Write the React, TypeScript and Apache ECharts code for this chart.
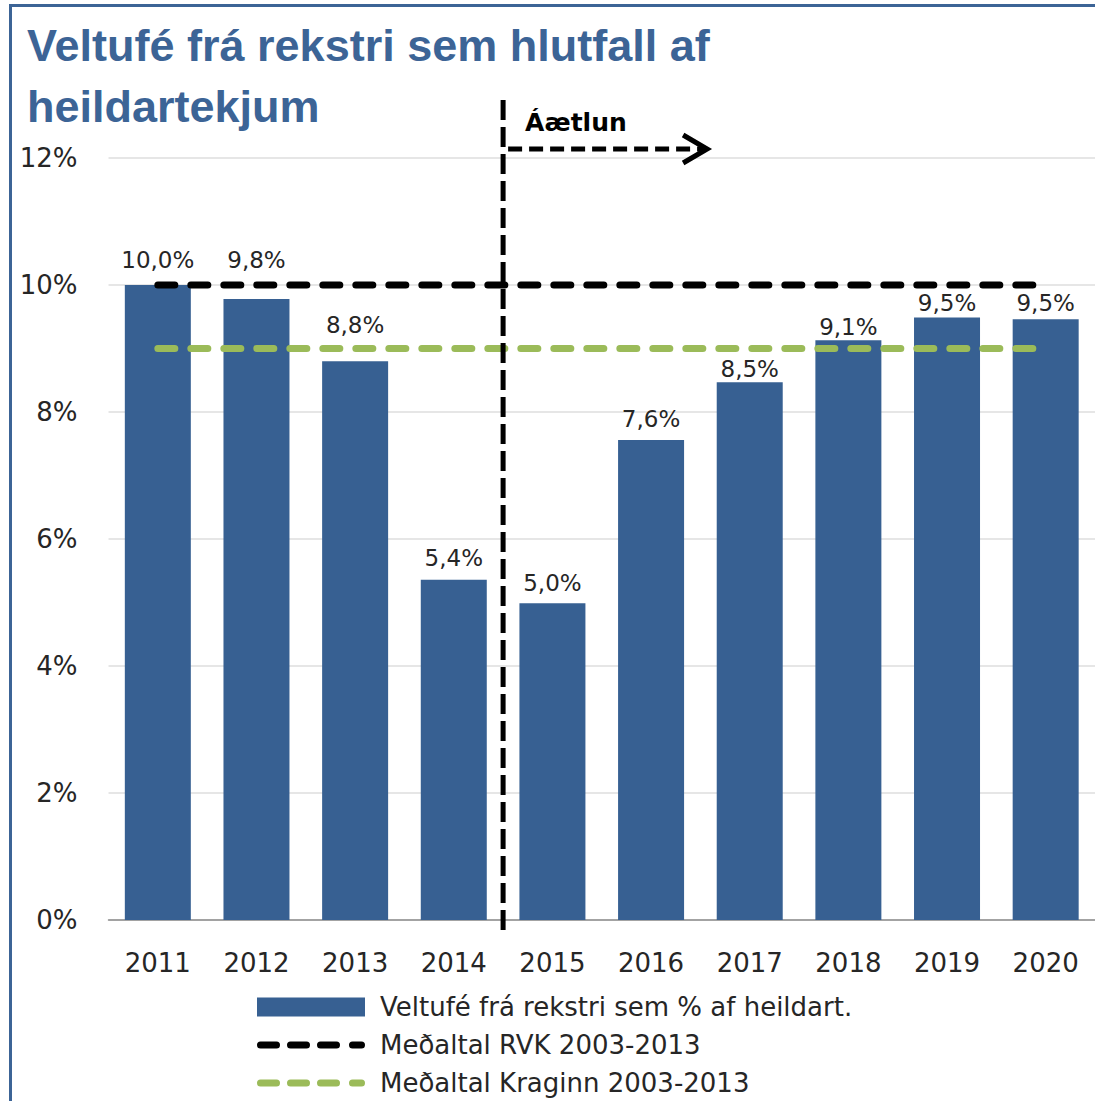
import React, { useEffect, useRef } from "react";
import * as echarts from "echarts";

const years = ["2011", "2012", "2013", "2014", "2015", "2016", "2017", "2018", "2019", "2020"];
const veltufe = [10.0, 9.78, 8.8, 5.36, 4.99, 7.56, 8.47, 9.13, 9.49, 9.46];
const rvkAvg = [10, 10, 10, 10, 10, 10, 10, 10, 10, 10];
const kraginnAvg = [9, 9, 9, 9, 9, 9, 9, 9, 9, 9];
const seriesNames = [
  "Veltufé frá rekstri sem % af heildart.",
  "Meðaltal RVK 2003-2013",
  "Meðaltal Kraginn 2003-2013",
];
const titleText = "Veltufé frá rekstri sem hlutfall af\nheildartekjum";
const planText = "Áætlun";

// vertical nudges of the value labels (px), as placed in the original
const labelNudge = [-7, -20, -18, -3, -2, -2, 5, 5, 4, 2];

const BLUE = "#376092";
const TITLE_BLUE = "#3c6496";
const GREEN = "#9bbb59";
const FONT = "DejaVu Sans";

// legend icon: four rounded dashes, framed by invisible corner specks to keep 108x19
function dashIcon(): string {
  const dashes = [
    [0, 23],
    [30, 53],
    [60, 83],
    [92, 108],
  ];
  let d = "M0,0h0.01v0.01h-0.01z M107.99,18.99h0.01v0.01h-0.01z";
  for (const [a, b] of dashes) {
    const r = 3.5;
    d += ` M${a + r},6 H${b - r} A${r},${r} 0 0 1 ${b - r},13 H${a + r} A${r},${r} 0 0 1 ${a + r},6 Z`;
  }
  return "path://" + d;
}

export default function App() {
  const ref = useRef<HTMLDivElement>(null);
  useEffect(() => {
    if (!ref.current) return;
    const chart = echarts.init(ref.current, null, { renderer: "svg" });
    const icon = dashIcon();
    chart.setOption({
      animation: false,
      backgroundColor: "#ffffff",
      title: {
        text: titleText,
        left: 27,
        top: 15,
        padding: 0,
        textStyle: {
          fontFamily: "Liberation Sans",
          fontWeight: "bold",
          fontSize: 45,
          lineHeight: 61,
          color: TITLE_BLUE,
        },
      },
      grid: { left: 108.5, right: -4.5, top: 158, bottom: 181, containLabel: false },
      legend: {
        orient: "vertical",
        left: 257,
        top: 992,
        itemWidth: 108,
        itemHeight: 19,
        itemGap: 8,
        padding: 0,
        itemStyle: { borderWidth: 0 },
        textStyle: {
          fontFamily: FONT,
          fontSize: 26,
          lineHeight: 30,
          color: "#262626",
          padding: [0, 0, 0, 10],
        },
        data: [
          { name: seriesNames[0], icon: "rect", itemStyle: { color: BLUE } },
          { name: seriesNames[1], icon, itemStyle: { color: "#000000" } },
          { name: seriesNames[2], icon, itemStyle: { color: GREEN } },
        ],
      },
      xAxis: {
        type: "category",
        data: years,
        axisTick: { show: false },
        axisLine: { lineStyle: { color: "#8c8c8c", width: 1.5 } },
        axisLabel: {
          fontFamily: FONT,
          fontSize: 26,
          color: "#262626",
          margin: 30,
        },
      },
      yAxis: {
        type: "value",
        min: 0,
        max: 12,
        interval: 2,
        axisLine: { show: false },
        axisTick: { show: false },
        splitLine: { lineStyle: { color: "#dedede", width: 1.5 } },
        axisLabel: {
          formatter: "{value}%",
          fontFamily: FONT,
          fontSize: 26,
          color: "#262626",
          margin: 31,
        },
      },
      series: [
        {
          name: seriesNames[0],
          type: "bar",
          data: veltufe.map((v, i) => ({
            value: v,
            label: { offset: [0, labelNudge[i]] },
          })),
          barWidth: 66,
          itemStyle: { color: BLUE },
          label: {
            show: true,
            position: "top",
            distance: 7,
            fontFamily: FONT,
            fontSize: 23,
            color: "#262626",
            formatter: (p: any) => Number(p.value).toFixed(1).replace(".", ",") + "%",
          },
          z: 2,
        },
        {
          name: seriesNames[1],
          type: "line",
          data: rvkAvg,
          symbol: "none",
          lineStyle: { color: "#000000", width: 7, type: [17, 16], cap: "round" },
          itemStyle: { color: "#000000" },
          z: 3,
        },
        {
          name: seriesNames[2],
          type: "line",
          data: kraginnAvg,
          symbol: "none",
          lineStyle: { color: GREEN, width: 7, type: [17, 16], cap: "round" },
          itemStyle: { color: GREEN },
          z: 3,
        },
      ],
    });

    const c14 = chart.convertToPixel({ xAxisIndex: 0 }, years[3]) as number;
    const c15 = chart.convertToPixel({ xAxisIndex: 0 }, years[4]) as number;
    const xDiv = (c14 + c15) / 2;
    const yTop = chart.convertToPixel({ yAxisIndex: 0 }, 12) as number;
    const yZero = chart.convertToPixel({ yAxisIndex: 0 }, 0) as number;
    const arrowY = yTop - 9;
    const arrowEnd = xDiv + 204;

    chart.setOption({
      graphic: [
        {
          type: "rect",
          shape: { x: 10.5, y: 5.5, width: 1200, height: 1200 },
          style: { fill: "none", stroke: TITLE_BLUE, lineWidth: 3 },
          z: 100,
          silent: true,
        },
        {
          type: "line",
          shape: { x1: xDiv, y1: yTop - 58, x2: xDiv, y2: yZero + 15 },
          style: { stroke: "#000", lineWidth: 5, lineDash: [20, 7] },
          z: 100,
          silent: true,
        },
        {
          type: "line",
          shape: { x1: xDiv + 5, y1: arrowY, x2: arrowEnd - 4, y2: arrowY },
          style: { stroke: "#000", lineWidth: 5, lineDash: [14, 7] },
          z: 100,
          silent: true,
        },
        {
          type: "polyline",
          shape: {
            points: [
              [arrowEnd - 24, arrowY - 14],
              [arrowEnd, arrowY],
              [arrowEnd - 24, arrowY + 14],
            ],
          },
          style: { stroke: "#000", lineWidth: 5, fill: "none", lineJoin: "miter" },
          z: 100,
          silent: true,
        },
        {
          type: "text",
          x: xDiv + 22,
          y: yTop - 36,
          style: {
            text: planText,
            fontFamily: FONT,
            fontWeight: "bold",
            fontSize: 25,
            fill: "#000",
            align: "left",
            verticalAlign: "middle",
          },
          z: 100,
          silent: true,
        },
      ],
    });

    return () => chart.dispose();
  }, []);
  return (
    <div
      ref={ref}
      style={{ position: "absolute", left: 0, top: 0, width: 1095, height: 1101 }}
    />
  );
}
